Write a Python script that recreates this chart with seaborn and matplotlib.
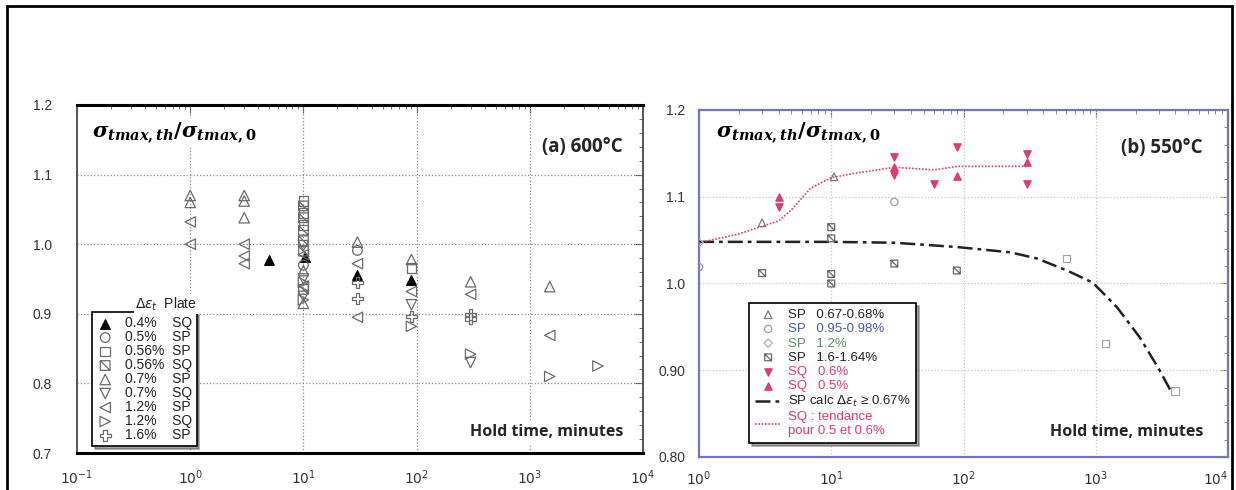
import numpy as np
import matplotlib
matplotlib.use("Agg")
import matplotlib.pyplot as plt
import seaborn as sns
from matplotlib.path import Path
from matplotlib.patches import Rectangle
from matplotlib.ticker import LogLocator, FixedLocator, NullFormatter

# ---------------- data : panel (a) 600 °C ----------------
a_pct = ["0.4%", "0.5%", "0.56%", "0.56%", "0.7%", "0.7%", "1.2%", "1.2%", "1.6%"]
a_plate = ["SQ", "SP", "SP", "SQ", "SP", "SQ", "SP", "SQ", "SP"]

a04SQ_x = [5, 10.3, 30, 90]
a04SQ_y = [0.978, 0.981, 0.956, 0.949]
a05SP_x = [30, 10]
a05SP_y = [0.991, 0.970]
a056SP_x = [10, 10, 10, 90]
a056SP_y = [1.062, 1.045, 1.028, 0.966]
a056SQ_x = [10, 10, 10, 10, 10, 10]
a056SQ_y = [1.055, 1.038, 1.020, 1.005, 0.990, 0.935]
a07SP_x = [1, 1, 3, 3, 3, 10, 10, 30, 90, 300, 1500]
a07SP_y = [1.070, 1.060, 1.070, 1.062, 1.038, 0.962, 0.915, 1.003, 0.978, 0.946, 0.939]
a07SQ_x = [10, 10, 10, 90, 300]
a07SQ_y = [0.998, 0.950, 0.925, 0.913, 0.830]
a12SP_x = [1, 1, 3, 3, 3, 10, 10, 30, 30, 90, 300, 1500]
a12SP_y = [1.032, 1.000, 1.000, 0.983, 0.972, 0.985, 0.940, 0.972, 0.895, 0.932, 0.928, 0.869]
a12SQ_x = [10, 10, 90, 300, 1500, 4000]
a12SQ_y = [0.945, 0.920, 0.882, 0.842, 0.810, 0.825]
a16SP_x = [30, 30, 90, 300, 300]
a16SP_y = [0.945, 0.922, 0.896, 0.899, 0.893]

# ---------------- data : panel (b) 550 °C ----------------
b_labels = ["SP   0.67-0.68%", "SP   0.95-0.98%", "SP   1.2%", "SP   1.6-1.64%",
            "SQ   0.6%", "SQ   0.5%", "SP calc $\\Delta\\varepsilon_t$ \u2265 0.67%",
            "SQ : tendance\npour 0.5 et 0.6%"]

bSP067_x = [3, 10.5]
bSP067_y = [1.070, 1.123]
bSP095_x = [1, 30]
bSP095_y = [1.019, 1.094]
bSP12_x = [1]
bSP12_y = [1.047]
bSP16_x = [3, 10, 10, 10, 10, 30, 89]
bSP16_y = [1.012, 1.065, 1.052, 1.011, 1.000, 1.023, 1.015]
bSPlight_x = [600, 1190, 3970]
bSPlight_y = [1.029, 0.931, 0.876]
bSQ06_x = [4, 30, 30, 60, 89, 300, 300]
bSQ06_y = [1.088, 1.146, 1.125, 1.115, 1.157, 1.149, 1.115]
bSQ05_x = [4, 30, 89, 300]
bSQ05_y = [1.100, 1.134, 1.124, 1.140]
trend_x = [1, 2, 3, 4, 5, 7, 10, 15, 30, 60, 90, 300]
trend_y = [1.047, 1.057, 1.066, 1.072, 1.085, 1.110, 1.122, 1.127, 1.134, 1.131, 1.135, 1.135]
calc_x = [1, 10, 30, 90, 224, 357, 606, 950, 1440, 2150, 3040, 3760]
calc_y = [1.048, 1.048, 1.047, 1.042, 1.036, 1.029, 1.015, 1.001, 0.973, 0.938, 0.900, 0.874]

a_yticks = [0.7, 0.8, 0.9, 1.0, 1.1, 1.2]
a_ytl = ["0.7", "0.8", "0.9", "1.0", "1.1", "1.2"]
a_xticks = [0.1, 1, 10, 100, 1000, 10000]
a_xtl = ["$10^{-1}$", "$10^{0}$", "$10^{1}$", "$10^{2}$", "$10^{3}$", "$10^{4}$"]
b_yticks = [0.8, 0.9, 1.0, 1.1, 1.2]
b_ytl = ["0.80", "0.90", "1.0", "1.1", "1.2"]
b_xticks = [1, 10, 100, 1000, 10000]
b_xtl = ["$10^{0}$", "$10^{1}$", "$10^{2}$", "$10^{3}$", "$10^{4}$"]

# ---------------- style ----------------
sns.set_style("white")
plt.rcParams["font.family"] = ["Liberation Sans", "DejaVu Sans"]
plt.rcParams["mathtext.it"] = "DejaVu Serif:italic:bold"
plt.rcParams["mathtext.rm"] = "DejaVu Serif:bold"
plt.rcParams["mathtext.bf"] = "DejaVu Serif:bold"

box_slash = Path([(-1, -1), (1, -1), (1, 1), (-1, 1), (-1, -1), (-1, 1), (1, -1)],
                 [Path.MOVETO, Path.LINETO, Path.LINETO, Path.LINETO, Path.CLOSEPOLY,
                  Path.MOVETO, Path.LINETO])

W, H = 1236, 490
fig = plt.figure(figsize=(W / 100, H / 100), dpi=100)
axA = fig.add_axes([77 / W, 1 - 453 / H, 566 / W, 348 / H])
axB = fig.add_axes([699 / W, 1 - 457 / H, 529 / W, 347 / H])

gray = "#6a6a6a"
red = "#dc3c6e"

# ---------- panel (a) ----------
a_series = [
    (a04SQ_x, a04SQ_y, "^", "black", "black", 48),
    (a05SP_x, a05SP_y, "o", "none", gray, 48),
    (a056SP_x, a056SP_y, "s", "none", gray, 48),
    (a056SQ_x, a056SQ_y, box_slash, "none", gray, 48),
    (a07SP_x, a07SP_y, "^", "none", gray, 56),
    (a07SQ_x, a07SQ_y, "v", "none", gray, 56),
    (a12SP_x, a12SP_y, "<", "none", gray, 56),
    (a12SQ_x, a12SQ_y, ">", "none", gray, 56),
    (a16SP_x, a16SP_y, "P", "none", gray, 66),
]
for (xs, ys, m, fc, ec, s), pct, pl in zip(a_series, a_pct, a_plate):
    pad = " " * ((5 - len(pct)) * 2 + 2)
    sns.scatterplot(x=xs, y=ys, ax=axA, marker=m, s=s, color=ec, fc=fc, ec=ec,
                    linewidth=0.9, label=f"{pct}{pad}{pl}", zorder=4)

axA.set_xscale("log")
axA.set_xlim(0.1, 1e4)
axA.set_ylim(0.7, 1.2)
axA.set_xlabel("")
axA.set_ylabel("")
axA.yaxis.set_major_locator(FixedLocator(a_yticks))
axA.set_yticklabels(a_ytl)
axA.yaxis.set_minor_locator(FixedLocator(np.arange(0.7, 1.2001, 0.02)))
axA.xaxis.set_major_locator(FixedLocator(a_xticks))
axA.set_xticklabels(a_xtl)
axA.xaxis.set_minor_locator(LogLocator(base=10, subs=np.arange(2, 10), numticks=60))
axA.xaxis.set_minor_formatter(NullFormatter())
axA.tick_params(which="both", direction="in", top=True, right=True, colors="#555",
                labelcolor="#333", labelsize=10)
axA.tick_params(axis="y", pad=18)
axA.tick_params(axis="x", pad=11)
axA.tick_params(which="major", length=6)
axA.tick_params(which="minor", length=3)
for v in [1, 10, 100, 1000]:
    axA.axvline(v, color="#8a8a8a", ls=":", lw=0.9, zorder=1)
for v in [0.8, 0.9, 1.0, 1.1]:
    axA.axhline(v, color="#8a8a8a", ls=":", lw=0.9, zorder=1)
for sp in ["top", "bottom"]:
    axA.spines[sp].set_color("black")
    axA.spines[sp].set_linewidth(2.2)
for sp in ["left", "right"]:
    axA.spines[sp].set_color("#555")
    axA.spines[sp].set_linewidth(1.4)

legA = axA.legend(loc="upper left", bbox_to_anchor=((92 - 77) / 566, (453 - 312) / 348),
                  frameon=True, fancybox=False, edgecolor="black", fontsize=10,
                  labelspacing=0.0, handletextpad=0.8, borderpad=0.3,
                  handlelength=1.3, shadow=True, borderaxespad=0)
legA.get_frame().set_linewidth(1.2)
legA.set_zorder(6)
for t in legA.get_texts():
    t.set_color("#222")
axA.text((166 - 77) / 566, (453 - 304) / 348, "$\\Delta\\varepsilon_t$  Plate",
         transform=axA.transAxes, ha="center", va="center", fontsize=10, color="#222",
         zorder=8, bbox=dict(fc="white", ec="none", pad=1))

axA.text((92 - 77) / 566, (453 - 133) / 348,
         "$\\sigma_{tmax,th}/\\sigma_{tmax,0}$", math_fontfamily="custom",
         transform=axA.transAxes, ha="left", va="center", fontsize=15, color="black",
         zorder=5, bbox=dict(fc="white", ec="none", pad=2))
axA.text((623 - 77) / 566, (453 - 147) / 348, "(a) 600°C", family="Open Sans",
         weight="bold", fontsize=13.5, ha="right", va="center", transform=axA.transAxes,
         zorder=5)
axA.text((623 - 77) / 566, (453 - 432) / 348, "Hold time, minutes", family="Open Sans",
         weight="bold", fontsize=11.5, ha="right", va="center", transform=axA.transAxes,
         zorder=5, bbox=dict(fc="white", ec="none", pad=3))

# ---------- panel (b) ----------
b_series = [
    (bSP067_x, bSP067_y, "^", "none", "#7a7a7a", 30),
    (bSP095_x, bSP095_y, "o", "none", "#9a9ab0", 28),
    (bSP12_x, bSP12_y, "D", "none", "#a8b4a8", 18),
    (bSP16_x, bSP16_y, box_slash, "none", "#666666", 24),
    (bSQ06_x, bSQ06_y, "v", red, red, 28),
    (bSQ05_x, bSQ05_y, "^", red, red, 28),
]
for (xs, ys, m, fc, ec, s), lab in zip(b_series, b_labels[:6]):
    sns.scatterplot(x=xs, y=ys, ax=axB, marker=m, s=s, color=ec, fc=fc, ec=ec,
                    linewidth=0.9, label=lab, zorder=4)
sns.scatterplot(x=bSPlight_x, y=bSPlight_y, ax=axB, marker="s", s=28, color="#a0a0a0",
                fc="none", ec="#a0a0a0", linewidth=0.8, zorder=4)
sns.lineplot(x=calc_x, y=calc_y, ax=axB, color="#222", ls=(0, (6, 2, 1.5, 2)), lw=1.8,
             label=b_labels[6], zorder=3)
sns.lineplot(x=trend_x, y=trend_y, ax=axB, color=red, ls=(0, (1, 1)), lw=1.2,
             label=b_labels[7], zorder=3)

axB.set_xscale("log")
axB.set_xlim(1, 1e4)
axB.set_ylim(0.8, 1.2)
axB.set_xlabel("")
axB.set_ylabel("")
axB.yaxis.set_major_locator(FixedLocator(b_yticks))
axB.set_yticklabels(b_ytl)
axB.yaxis.set_minor_locator(FixedLocator(np.arange(0.8, 1.2001, 0.02)))
axB.xaxis.set_major_locator(FixedLocator(b_xticks))
axB.set_xticklabels(b_xtl)
axB.xaxis.set_minor_locator(LogLocator(base=10, subs=np.arange(2, 10), numticks=60))
axB.xaxis.set_minor_formatter(NullFormatter())
axB.tick_params(which="both", direction="in", top=True, right=True, colors="#777",
                labelcolor="#333", labelsize=10)
axB.tick_params(axis="y", pad=10)
axB.tick_params(axis="x", pad=9)
axB.tick_params(which="major", length=5)
axB.tick_params(which="minor", length=3)
axB.get_xticklabels()[-1].set_horizontalalignment("right")
for v in [10, 100, 1000]:
    axB.axvline(v, color="#c4c4c4", ls=":", lw=0.9, zorder=1)
for v in [0.9, 1.0, 1.1]:
    axB.axhline(v, color="#c4c4c4", ls=":", lw=0.9, zorder=1)
for sp in axB.spines.values():
    sp.set_color("#7474c0")
    sp.set_linewidth(1.6)

hB, lB = axB.get_legend_handles_labels()
order = [lB.index(l) for l in b_labels]
legB = axB.legend([hB[i] for i in order], [lB[i] for i in order], loc="upper left",
                  bbox_to_anchor=((749 - 699) / 529, (457 - 303) / 347),
                  frameon=True, fancybox=False, edgecolor="black", fontsize=9.5,
                  labelspacing=0.15, handletextpad=0.5, borderpad=0.45,
                  handlelength=2.0, shadow=True, borderaxespad=0)
legB.get_frame().set_linewidth(1.2)
legB.set_zorder(6)
text_cols = ["#222", "#4a56a8", "#5e8a6a", "#222", red, red, "#222", red]
for t, c in zip(legB.get_texts(), text_cols):
    t.set_color(c)

axB.text((716 - 699) / 529, (457 - 133) / 347,
         "$\\sigma_{tmax,th}/\\sigma_{tmax,0}$", math_fontfamily="custom",
         transform=axB.transAxes, ha="left", va="center", fontsize=15, color="black",
         zorder=5)
axB.text((1203 - 699) / 529, (457 - 148) / 347, "(b) 550°C", family="Open Sans",
         weight="bold", fontsize=13.5, ha="right", va="center", transform=axB.transAxes,
         zorder=5)
axB.text((1203 - 699) / 529, (457 - 432) / 347, "Hold time, minutes", family="Open Sans",
         weight="bold", fontsize=11.5, ha="right", va="center", transform=axB.transAxes,
         zorder=5)

# outer frame
fig.patches.append(Rectangle((7 / W, -0.05), (1232 - 7) / W, 1.05 - 6 / H,
                             transform=fig.transFigure, fill=False, ec="black", lw=2))

fig.savefig("out.png", dpi=100)
